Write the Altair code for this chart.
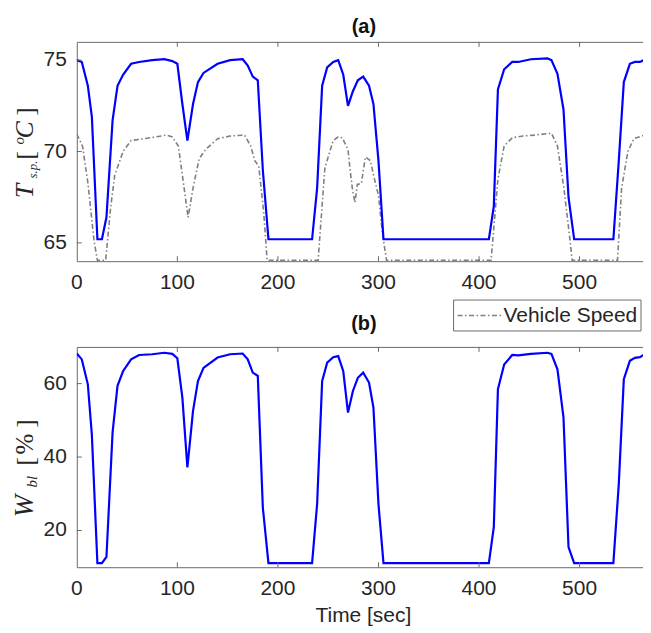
import altair as alt
import pandas as pd

# ---------------- data ----------------
time_s = [0, 5, 11, 15, 20.5, 25, 29.5, 35.6, 40.5, 46,
          54, 62, 75, 87, 95, 100, 105, 110, 115.6, 120.5,
          126, 140, 152.5, 165, 170, 175, 180, 185, 190.6, 234,
          239, 244, 249, 255, 260, 265, 269.7, 274.6, 279.5, 284.8,
          290.6, 295, 300, 305, 409.8, 414.7, 418.8, 425, 433, 439,
          451.6, 468, 472, 478, 484, 489, 494.6, 533.6, 539, 544,
          550, 555, 560, 571]
tsp_c = [75.0, 74.9, 73.6, 71.9, 65.2, 65.2, 66.4, 71.7, 73.6, 74.2,
         74.8, 74.9, 75.0, 75.05, 74.95, 74.8, 72.6, 70.6, 72.6, 73.8,
         74.3, 74.8, 75.0, 75.05, 74.7, 74.1, 73.9, 69.0, 65.2, 65.2,
         68.0, 73.6, 74.6, 74.9, 75.0, 74.2, 72.5, 73.3, 73.9, 74.1,
         73.6, 72.6, 69.5, 65.2, 65.2, 67.0, 73.4, 74.5, 74.9, 74.9,
         75.05, 75.1, 75.0, 74.25, 72.3, 67.5, 65.2, 65.2, 69.5, 73.8,
         74.8, 74.9, 74.9, 75.2]
wbl_pct = [68.2, 66.6, 59.8, 46.0, 11.1, 11.1, 12.8, 46.7, 59.4, 63.4,
           66.6, 67.8, 68.0, 68.4, 68.1, 66.9, 56.2, 37.2, 52.6, 60.7,
           64.3, 67.1, 68.0, 68.2, 66.6, 63.0, 62.1, 26.3, 11.1, 11.1,
           27.2, 60.7, 65.7, 67.2, 67.5, 63.4, 52.1, 58.0, 61.6, 63.0,
           60.3, 53.5, 27.2, 11.1, 11.1, 20.9, 58.5, 65.2, 67.8, 67.7,
           68.1, 68.4, 68.1, 63.9, 50.8, 15.5, 11.1, 11.1, 32.7, 61.2,
           66.2, 67.0, 67.2, 69.0]

speed_time_s = [0, 5.7, 11, 17.2, 20.5, 28.7, 33.6, 37.7, 46, 54,
                66.4, 78.7, 89, 95, 101, 106, 110.7, 115.6, 121.7, 127.9,
                140, 152.5, 166.8, 173, 177, 181, 186, 189.3, 240, 246.7,
                255, 260, 264, 269.7, 272, 274, 276.6, 279, 283, 287,
                292, 296, 300, 304, 308, 412, 418.8, 425, 433, 443.4,
                455.7, 472, 478, 484.4, 490.6, 492.6, 537.7, 541.8, 548, 554,
                562, 571]
speed_scaled = [70.95, 70.3, 68.3, 65.1, 64.05, 64.05, 66.9, 68.7, 70.0, 70.6,
                70.7, 70.8, 70.9, 70.8, 70.3, 68.3, 66.4, 68.0, 69.6, 70.1,
                70.7, 70.85, 70.9, 70.3, 69.5, 69.2, 66.6, 64.05, 64.05, 69.1,
                70.6, 70.8, 70.75, 70.1, 68.9, 68.0, 67.2, 68.2, 68.25, 69.7,
                69.5, 68.5, 67.6, 65.5, 64.05, 64.05, 68.5, 70.3, 70.75, 70.85,
                70.9, 71.0, 70.3, 68.0, 65.1, 64.05, 64.05, 68.0, 70.0, 70.7,
                70.85, 71.0]

x_tick_values = [0, 100, 200, 300, 400, 500]
ya_tick_values = [65, 70, 75]
yb_tick_values = [20, 40, 60]
x_title = "Time [sec]"
legend_label = "Vehicle Speed"
panel_titles = ["(a)", "(b)"]

# ---------------- style ----------------
W, HA, HB = 576, 220, 221
XDOM, YADOM, YBDOM = [0, 571], [64, 76], [10, 70]
FRAME = "#6a6a6a"
LABEL = "#262626"
SANS = "Liberation Sans"
SERIF = "Liberation Serif"
BLUE = "#0000ff"
GRAY = "#7f7f7f"
DASH = [5, 2.5, 1.5, 2.5]

df_main = pd.DataFrame({"time": time_s, "tsp": tsp_c, "wbl": wbl_pct})
df_speed = pd.DataFrame({"time": speed_time_s, "speed": speed_scaled})
df_xl = pd.DataFrame({"v": x_tick_values})
df_xt = pd.DataFrame({"v": [v for v in x_tick_values if v > 0]})

xs = alt.Scale(domain=XDOM, nice=False, zero=False)


def frame_layers(yvals, yscale, h):
    df_y = pd.DataFrame({"v": yvals})
    rule = dict(color=FRAME, strokeWidth=1)
    xt_b = alt.Chart(df_xt).mark_rule(**rule).encode(
        x=alt.X("v:Q", scale=xs, axis=None), y=alt.value(h), y2=alt.value(h - 5))
    xt_t = alt.Chart(df_xt).mark_rule(**rule).encode(
        x=alt.X("v:Q", scale=xs, axis=None), y=alt.value(0), y2=alt.value(5))
    yt_l = alt.Chart(df_y).mark_rule(**rule).encode(
        y=alt.Y("v:Q", scale=yscale, axis=None), x=alt.value(0), x2=alt.value(5))
    yt_r = alt.Chart(df_y).mark_rule(**rule).encode(
        y=alt.Y("v:Q", scale=yscale, axis=None), x=alt.value(W), x2=alt.value(W - 5))
    xlab = alt.Chart(df_xl).mark_text(
        font=SANS, fontSize=21, color=LABEL, align="center", baseline="middle").encode(
        x=alt.X("v:Q", scale=xs, axis=None), y=alt.value(h + 22), text="v:Q")
    ylab = alt.Chart(df_y).mark_text(
        font=SANS, fontSize=21, color=LABEL, align="right", baseline="middle").encode(
        y=alt.Y("v:Q", scale=yscale, axis=None), x=alt.value(-10), text="v:Q")
    return [xt_b, xt_t, yt_l, yt_r, xlab, ylab]


def piece(txt, x, y, size, italic=True, font=SERIF):
    return alt.Chart(pd.DataFrame({"t": [txt]})).mark_text(
        angle=270, align="left", baseline="alphabetic", font=font,
        fontSize=size, fontStyle="italic" if italic else "normal",
        color=LABEL).encode(text="t:N", x=alt.value(x), y=alt.value(y))


def panel_title(txt, y):
    return alt.Chart(pd.DataFrame({"t": [txt]})).mark_text(
        align="center", baseline="middle", font=SANS, fontSize=20,
        fontWeight="bold", color="#111111").encode(
        text="t:N", x=alt.value(W / 2), y=alt.value(y))


# ---------------- panel (a) ----------------
ysa = alt.Scale(domain=YADOM, nice=False, zero=False)
line_a = alt.Chart(df_main).mark_line(color=BLUE, strokeWidth=2.2, clip=True).encode(
    x=alt.X("time:Q", scale=xs, axis=None),
    y=alt.Y("tsp:Q", scale=ysa, axis=None))
speed_a = alt.Chart(df_speed).mark_line(color=GRAY, strokeWidth=1.6,
                                         strokeDash=DASH, clip=True).encode(
    x=alt.X("time:Q", scale=xs, axis=None), y=alt.Y("speed:Q", scale=ysa, axis=None))
title_a = [
    piece("T", -44, 157, 26),
    piece("s.p.", -40, 137, 13),
    piece("[", -43, 118, 25, italic=False),
    piece("o", -53, 103, 15),
    piece("C", -44, 97, 26),
    piece("]", -43, 74, 25, italic=False),
]
panel_a = alt.layer(speed_a, line_a, *frame_layers(ya_tick_values, ysa, HA), *title_a,
                    panel_title(panel_titles[0], -15)).properties(width=W, height=HA)

# ---------------- panel (b) ----------------
ysb = alt.Scale(domain=YBDOM, nice=False, zero=False)
line_b = alt.Chart(df_main).mark_line(color=BLUE, strokeWidth=2.2, clip=True).encode(
    x=alt.X("time:Q", scale=xs, axis=None),
    y=alt.Y("wbl:Q", scale=ysb, axis=None))
title_b = [
    piece("W", -44, 171, 27),
    piece("bl", -40, 141, 15),
    piece("[", -43, 119, 25, italic=False),
    piece("%", -44, 108, 25, italic=False),
    piece("]", -43, 81, 25, italic=False),
]
one = pd.DataFrame({"k": [0]})
legend_box = alt.Chart(one).mark_rect(
    fill="white", stroke=FRAME, strokeWidth=1).encode(
    x=alt.value(378), x2=alt.value(566), y=alt.value(-47), y2=alt.value(-16))
legend_line = alt.Chart(one).mark_rule(
    color=GRAY, strokeWidth=1.6, strokeDash=DASH).encode(
    x=alt.value(382), x2=alt.value(426), y=alt.value(-31.5))
legend_text = alt.Chart(pd.DataFrame({"t": [legend_label]})).mark_text(
    align="left", baseline="middle", font=SANS, fontSize=21, color=LABEL).encode(
    text="t:N", x=alt.value(428), y=alt.value(-31))
xtitle = alt.Chart(pd.DataFrame({"t": [x_title]})).mark_text(
    align="center", baseline="middle", font=SANS, fontSize=21, color=LABEL).encode(
    text="t:N", x=alt.value(W / 2 - 0.5), y=alt.value(HB + 49))
panel_b = alt.layer(line_b, *frame_layers(yb_tick_values, ysb, HB), *title_b,
                    legend_box, legend_line, legend_text, xtitle,
                    panel_title(panel_titles[1], -23)).properties(width=W, height=HB)

chart = alt.vconcat(panel_a, panel_b, spacing=86, bounds="flush").properties(
    padding={"left": 2, "top": 7, "right": -9, "bottom": -2}
).configure_view(stroke=FRAME, strokeWidth=1)

chart.save("out.html", embed_options={"renderer": "svg", "actions": False})
